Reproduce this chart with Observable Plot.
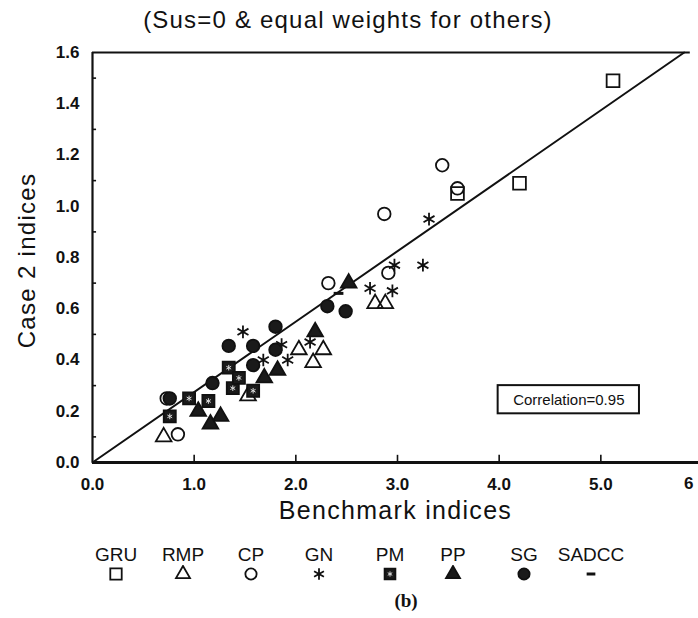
<!DOCTYPE html>
<html><head><meta charset="utf-8">
<script src="https://cdn.jsdelivr.net/npm/d3@7"></script>
<script src="https://cdn.jsdelivr.net/npm/@observablehq/plot@0.6"></script>
<style>
html,body{margin:0;padding:0;background:#fff;overflow:hidden;}
#wrap{position:relative;width:698px;height:618px;font-family:"Liberation Sans",Arial,Helvetica,sans-serif;color:#111;}
#title{position:absolute;left:0;top:6px;width:696px;text-align:center;font-size:24px;line-height:28px;letter-spacing:1.2px;}
#chart{position:absolute;left:0;top:40px;}
.leg{position:absolute;top:545px;width:80px;margin-left:-40px;text-align:center;}
.leg .lab{font-size:19px;line-height:20px;height:20px;}
.leg svg{display:block;margin:0 auto;}
#cap{position:absolute;left:356px;width:100px;top:590px;text-align:center;font-family:"Liberation Serif","DejaVu Serif",serif;font-weight:bold;font-size:19px;}
</style></head><body>
<div id="wrap">
  <div id="title">(Sus=0 &amp; equal weights for others)</div>
  <div id="chart"></div>
  <div id="legend"></div>
  <div id="cap">(b)</div>
</div>
<script>
// ---- data (Benchmark index, Case 2 index) ----
const seriesNames = ["GRU","RMP","CP","GN","PM","PP","SG","SADCC"];
const GRU = [[5.12,1.49],[4.20,1.09],[3.59,1.05]];
const RMP = [[2.78,0.62],[2.88,0.62],[2.03,0.44],[2.27,0.44],[2.17,0.39],[1.53,0.26],[0.70,0.10]];
const CP  = [[3.44,1.16],[2.87,0.97],[3.59,1.07],[2.91,0.74],[2.32,0.70],[0.84,0.11],[0.73,0.25]];
const GN  = [[3.31,0.95],[2.97,0.77],[3.25,0.77],[2.73,0.68],[2.95,0.67],[1.48,0.51],[1.86,0.46],[2.14,0.47],[1.92,0.40],[1.68,0.40]];
const PM  = [[0.76,0.18],[0.95,0.25],[1.34,0.37],[1.38,0.29],[1.58,0.28],[1.14,0.24],[1.44,0.33]];
const PP  = [[2.52,0.70],[2.19,0.51],[1.82,0.36],[1.69,0.33],[1.04,0.20],[1.26,0.18],[1.16,0.15]];
const SG  = [[2.31,0.61],[2.49,0.59],[1.34,0.455],[1.58,0.455],[1.80,0.53],[1.80,0.44],[1.58,0.38],[1.18,0.31],[0.76,0.25]];
const SADCC = [[2.42,0.66]];
const fitLine = [[0,0],[5.82,1.6]];
const correlationText = "Correlation=0.95";
const correlationBox = {x1:3.99, x2:5.38, y1:0.19, y2:0.30};
const xTickLabels = [0,1,2,3,4,5];
const xEndLabel = "6";
const yTickLabels = [0,0.2,0.4,0.6,0.8,1.0,1.2,1.4,1.6];
const xTickMarks = [1,2,3,4,5];
const yTickMarks = [0.1,0.3,0.5,0.7,0.9,1.1,1.3,1.5];

// ---- styles ----
const INK = "#111";
const dashSymbol = {draw(ctx, size){ const w = Math.sqrt(size)*0.55; ctx.moveTo(-w,0); ctx.lineTo(w,0); }};
const styles = {
  GRU:{symbol:"square", filled:false, r:7.2},
  RMP:{symbol:"triangle", filled:false, r:5.8},
  CP:{symbol:"circle", filled:false, r:6.3},
  GN:{symbol:"asterisk", filled:false, r:6},
  PM:{symbol:"square", filled:true, r:6.8, pattern:true},
  PP:{symbol:"triangle", filled:true, r:5.8},
  SG:{symbol:"circle", filled:true, r:6.3},
  SADCC:{symbol:dashSymbol, filled:false, r:5, sw:3}
};
const seriesData = {GRU,RMP,CP,GN,PM,PP,SG,SADCC};
const legendX = {GRU:116,RMP:183,CP:251,GN:319,PM:390,PP:453,SG:524,SADCC:591};

const rows = seriesNames.flatMap(n => seriesData[n].map(([x,y]) => ({series:n, x, y})));
const fitRows = fitLine.map(([x,y]) => ({x,y}));

const seriesMarks = seriesNames.flatMap(n => {
  const s = styles[n];
  const data = rows.filter(d => d.series === n);
  const m = [Plot.dot(data, {x:"x", y:"y", symbol:s.symbol, r:s.r,
    fill: s.filled ? "#1a1a1a" : "none", stroke: INK, strokeWidth: s.sw || 1.8})];
  if (s.pattern) m.push(Plot.dot(data, {x:"x", y:"y", symbol:"asterisk", r:2.6, stroke:"#ddd", strokeWidth:1}));
  return m;
});

const chart = Plot.plot({
  width: 698, height: 500,
  marginLeft: 92, marginRight: 0, marginTop: 12, marginBottom: 78,
  style: {fontFamily:'"Liberation Sans", Arial, sans-serif', fontSize:"17px", fontWeight:"bold", color:INK, background:"#fff", overflow:"visible"},
  x: {domain:[0,6], range:[92,702], ticks:xTickLabels, tickFormat:d3.format(".1f"), tickSize:0, tickPadding:15, label:null},
  y: {domain:[0,1.6], range:[422,12], ticks:yTickLabels, tickFormat:d3.format(".1f"), tickSize:0, tickPadding:13, label:null},
  marks: [
    Plot.ruleX([0], {y1:0, y2:1.6, stroke:INK, strokeWidth:2.2}),
    Plot.ruleY([0], {x1:0, x2:6, stroke:INK, strokeWidth:3}),
    Plot.ruleY([1.6], {x1:0, x2:5.88, stroke:INK, strokeWidth:2.2}),
    Plot.ruleX(xTickMarks, {y1:0, y2:0.028, stroke:INK, strokeWidth:1.6}),
    Plot.ruleY(yTickMarks, {x1:0, x2:0.04, stroke:INK, strokeWidth:1.6}),
    Plot.line(fitRows, {x:"x", y:"y", stroke:INK, strokeWidth:2}),
    ...seriesMarks,
    Plot.rect([correlationBox], {x1:"x1", x2:"x2", y1:"y1", y2:"y2", fill:"white", stroke:INK, strokeWidth:2}),
    Plot.text([correlationText], {x:(correlationBox.x1+correlationBox.x2)/2, y:(correlationBox.y1+correlationBox.y2)/2, text:d=>d, fontSize:15, fontWeight:"normal", fill:INK}),
    Plot.text([xEndLabel], {frameAnchor:"bottom-right", dx:-5, dy:21, text:d=>d, textAnchor:"end", lineAnchor:"middle", fontSize:17, fill:INK}),
    Plot.text(["Case 2 indices"], {frameAnchor:"left", dx:-65, rotate:-90, text:d=>d, fontSize:24, fontWeight:"normal", fill:INK, textAnchor:"middle", lineAnchor:"middle", dy:3}),
    Plot.text(["Benchmark indices"], {frameAnchor:"bottom", dy:48, text:d=>d, fontSize:25, fontWeight:"normal", fill:INK, lineAnchor:"middle"})
  ]
});
d3.select(chart).selectAll("text").filter(function(){ return /indices/.test(this.textContent); }).style("letter-spacing","1.3px");
document.getElementById("chart").appendChild(chart);

// ---- legend ----
const legend = d3.select("#legend");
const d3Sym = {square:d3.symbolSquare, triangle:d3.symbolTriangle, circle:d3.symbolCircle, asterisk:d3.symbolAsterisk};
seriesNames.forEach(n => {
  const s = styles[n];
  const item = legend.append("div").attr("class","leg").style("left", legendX[n]+"px");
  item.append("div").attr("class","lab").text(n);
  const svg = item.append("svg").attr("width",20).attr("height",18);
  const g = svg.append("g").attr("transform","translate(10,9)");
  const type = typeof s.symbol === "string" ? d3Sym[s.symbol] : s.symbol;
  g.append("path").attr("d", d3.symbol(type, s.r*s.r*Math.PI*0.8)())
    .attr("fill", s.filled ? "#1a1a1a" : "none").attr("stroke", INK).attr("stroke-width", s.sw || 1.8);
  if (s.pattern) g.append("path").attr("d", d3.symbol(d3.symbolAsterisk, 2.4*2.4*Math.PI)()).attr("stroke","#ddd").attr("fill","none");
});
</script>
</body></html>
